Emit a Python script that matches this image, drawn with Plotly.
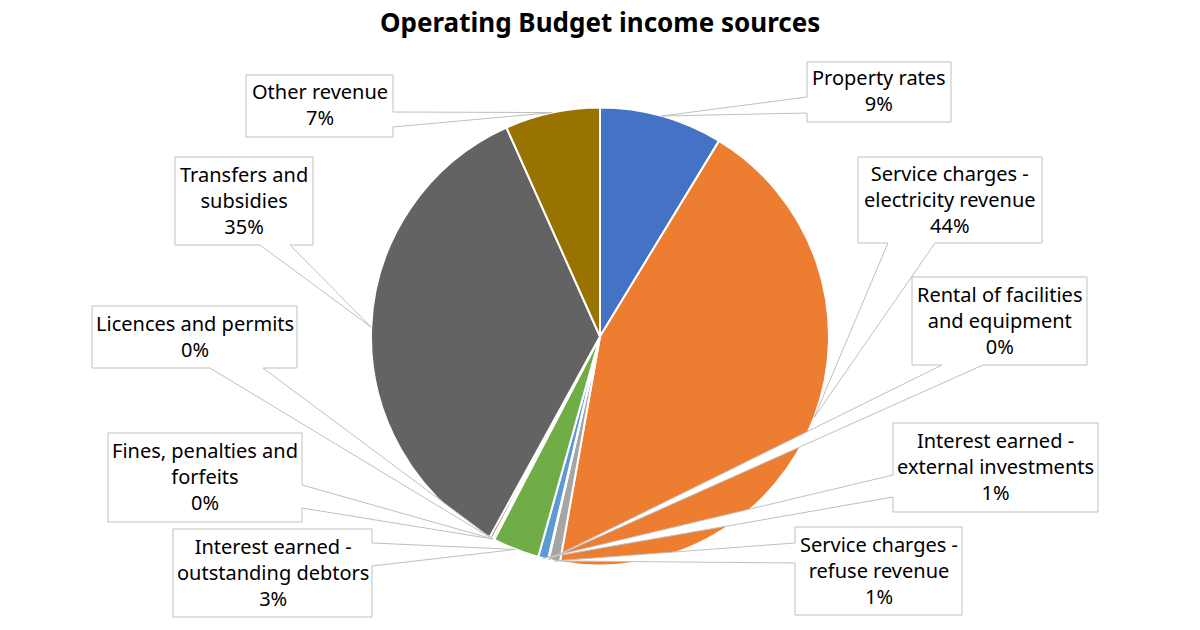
import math
import plotly.graph_objects as go

# ---- data ----
labels = ["Property rates", "Service charges - electricity revenue", "Service charges - refuse revenue",
          "Rental of facilities and equipment", "Interest earned - external investments",
          "Interest earned - outstanding debtors", "Fines, penalties and forfeits",
          "Licences and permits", "Transfers and subsidies", "Other revenue"]
label_lines = ["Property rates", "Service charges -<br>electricity revenue", "Service charges -<br>refuse revenue",
               "Rental of facilities<br>and equipment", "Interest earned -<br>external investments",
               "Interest earned -<br>outstanding debtors", "Fines, penalties and<br>forfeits",
               "Licences and permits", "Transfers and<br>subsidies", "Other revenue"]
values = [8.7, 44.1, 0.8, 0.05, 0.7, 3.3, 0.15, 0.2, 35.3, 6.7]
colors = ["#4472C4", "#ED7D31", "#A5A5A5", "#FFC000", "#5B9BD5", "#70AD47",
          "#264478", "#9E480E", "#636363", "#997300"]

# ---- layout (pixels) ----
W, H = 1200, 630
CX, CY, R = 600, 336.5, 229
# callout boxes: (x0, y0, x1, y1), side with the pointer, pointer base positions along that side
boxes = [
    ((807, 62, 951, 122), "left", (97, 113)),
    ((858, 157, 1042, 243), "bottom", (888, 935)),
    ((795, 527, 962, 615), "left", (543, 563)),
    ((912, 277, 1087, 365), "bottom", (942, 983)),
    ((893, 423, 1098, 512), "left", (475, 497)),
    ((173, 529, 372, 617), "right", (543, 566)),
    ((108, 433, 302, 522), "right", (485, 508)),
    ((92, 306, 297, 368), "bottom", (210, 263)),
    ((175, 157, 313, 245), "bottom", (260, 290)),
    ((246, 75, 393, 137), "right", (112, 127)),
]
FONT = "Noto Sans"

def px(x):
    return x / W

def py(y):
    return 1 - y / H

total = sum(values)
fig = go.Figure(go.Pie(
    labels=labels, values=values, sort=False, direction="clockwise", rotation=0,
    marker=dict(colors=colors, line=dict(color="white", width=2)),
    textinfo="none", hoverinfo="label+percent", showlegend=False,
    domain=dict(x=[px(CX - R), px(CX + R)], y=[py(CY + R), py(CY - R)]),
))

shapes, annotations = [], []
cum = 0.0
for v, txt, (box, side, (a, b)) in zip(values, label_lines, boxes):
    mid = (cum + v / 2) / total * 2 * math.pi
    cum += v
    tx = CX + R * math.sin(mid)
    ty = CY - R * math.cos(mid)
    x0, y0, x1, y1 = box
    pts = [(x0, y0)]
    if side == "top":
        pts += [(a, y0), (tx, ty), (b, y0)]
    pts += [(x1, y0)]
    if side == "right":
        pts += [(x1, a), (tx, ty), (x1, b)]
    pts += [(x1, y1)]
    if side == "bottom":
        pts += [(b, y1), (tx, ty), (a, y1)]
    pts += [(x0, y1)]
    if side == "left":
        pts += [(x0, b), (tx, ty), (x0, a)]
    path = "M " + " L ".join(f"{px(x):.5f},{py(y):.5f}" for x, y in pts) + " Z"
    shapes.append(dict(type="path", path=path, xref="paper", yref="paper",
                       fillcolor="white", line=dict(color="#BFBFBF", width=1), layer="above"))
    pct = round(v / total * 100)
    annotations.append(dict(x=px((x0 + x1) / 2), y=py((y0 + y1) / 2 - 1), xref="paper", yref="paper",
                            text=f"{txt}<br>{pct}%", showarrow=False, align="center",
                            xanchor="center", yanchor="middle",
                            font=dict(family=FONT, size=20, color="#000000")))

annotations.append(dict(x=0.5, y=py(22), xref="paper", yref="paper",
                        text="<b>Operating Budget income sources</b>", showarrow=False,
                        xanchor="center", yanchor="middle",
                        font=dict(family=FONT, size=26, color="#000000")))

fig.update_layout(width=W, height=H, margin=dict(l=0, r=0, t=0, b=0),
                  paper_bgcolor="white", plot_bgcolor="white",
                  shapes=shapes, annotations=annotations)
fig.write_html("out.html")
